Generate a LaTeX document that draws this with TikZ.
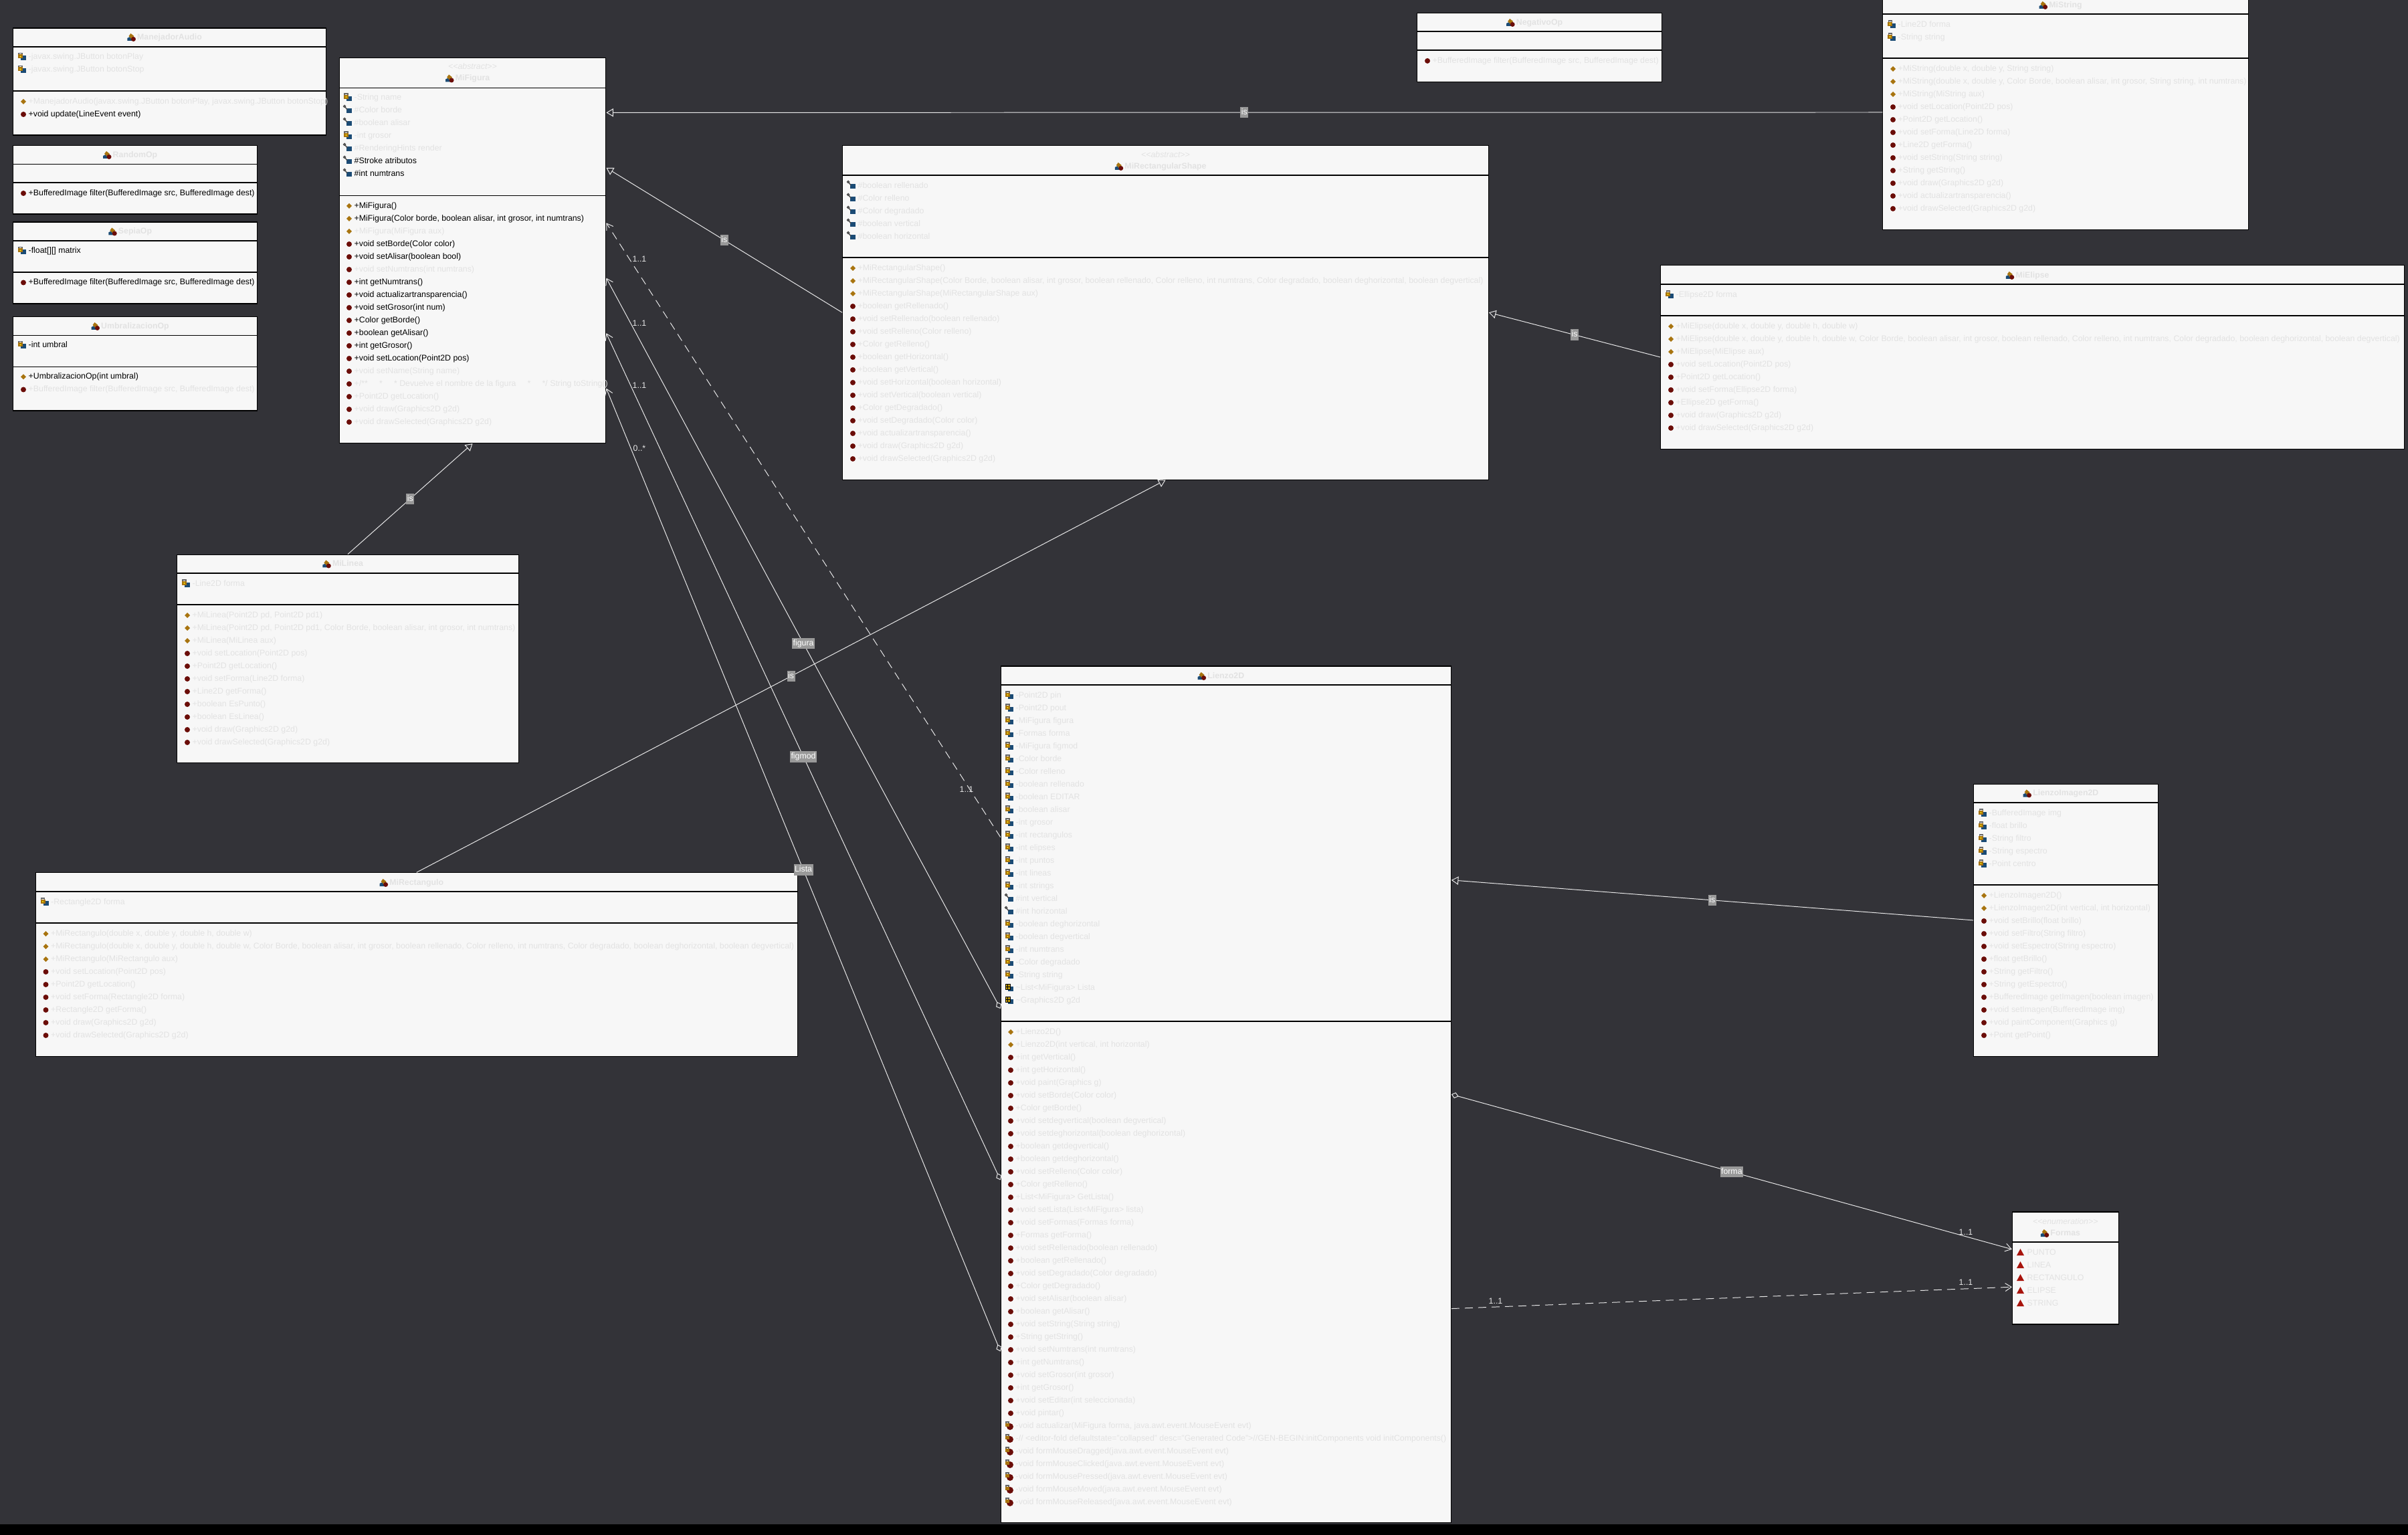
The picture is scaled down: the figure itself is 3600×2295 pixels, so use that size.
\documentclass[tikz,border=0pt]{standalone}
\usepackage{fontspec}
\setmainfont{Liberation Sans}
\usetikzlibrary{arrows.meta}
\usetikzlibrary{calc}
\definecolor{fondo}{HTML}{333338}
\definecolor{caja}{HTML}{F7F7F7}
\definecolor{tenue}{HTML}{E2E2E2}
\definecolor{rolgris}{HTML}{999999}
\definecolor{linea}{HTML}{E8E8E8}
\definecolor{azulico}{HTML}{1B4B75}
\definecolor{ocreico}{HTML}{A8740F}
\definecolor{rojoico}{HTML}{6B0D08}
\definecolor{enumico}{HTML}{A8140C}
\newcommand{\filafont}{\fontsize{3.51pt}{4pt}\selectfont}
\tikzset{
 clase/.style={draw=black,fill=caja,line width=.32pt,inner sep=0},
 sep/.style={draw=black,line width=.32pt},
 rowf/.style={anchor=west,inner sep=0,font=\filafont,text=tenue,text height=2.7pt,text depth=.8pt},
 rown/.style={rowf,text=black},
 titulo/.style={rowf,anchor=center,font=\filafont\bfseries,text=tenue},
 estereo/.style={rowf,anchor=center,font=\filafont\itshape},
 mult/.style={rowf,anchor=center,text=linea},
 rol/.style={fill=rolgris,inner xsep=.4pt,inner ysep=.6pt,font=\filafont,text=white,text height=2.7pt,text depth=.8pt},
 hereda/.style={draw=linea,line width=.28pt,-{Triangle[fill=fondo,length=3pt,width=3.5pt]}},
 agrega/.style={draw=linea,line width=.28pt,{Diamond[fill=fondo,length=3.2pt,width=2.6pt]}-{Straight Barb[length=2.6pt,width=3.4pt]}},
 depende/.style={draw=linea,line width=.28pt,dash pattern=on 3.4pt off 2.3pt,-{Straight Barb[length=2.6pt,width=3.4pt]}},
 privattr/.pic={
  \fill[azulico] (-11,-2) rectangle (-3,5);
  \fill[ocreico] (-15,-4) rectangle (-8,2);
  \draw[black!60,line width=.3pt] (-14,-4) -- (-14,-6) -- (-9,-6) -- (-9,-4);
  \fill[yellow] (-11.5,-1) circle (1.2);
 },
 protattr/.pic={
  \fill[azulico] (-11,-3) rectangle (-3,4);
  \draw[black!70,line width=.4pt] (-14,-6) circle (1.5) (-13,-5) -- (-10,-1);
 },
 paqattr/.pic={
  \fill[azulico] (-11,-2) rectangle (-3,5);
  \fill[ocreico!70!yellow,draw=black,line width=.2pt] (-15,-6) rectangle (-8,2);
  \draw[black,line width=.2pt] (-11.5,-6) -- (-11.5,2) (-15,-2) -- (-8,-2);
 },
 ctormet/.pic={\fill[ocreico] (-7,-4) -- (-3,0) -- (-7,4) -- (-11,0) -- cycle;},
 pubmet/.pic={\fill[rojoico] (-7,0) circle (4);},
 privmet/.pic={
  \fill[rojoico] (-8,1) circle (5);
  \fill[ocreico] (-15,-4) rectangle (-9,1);
  \draw[black!60,line width=.3pt] (-14,-4) -- (-14,-6) -- (-10,-6) -- (-10,-4);
 },
 enumlit/.pic={\fill[enumico] (-15,4) -- (-9.5,-6) -- (-4,4) -- cycle;},
 claseico/.pic={
  \fill[azulico] (-14,5) -- (-14,1) -- (-10,-1) -- (-6,5) -- cycle;
  \fill[ocreico] (-9,-6) -- (-4,-2) -- (-8,2) -- (-12,-2) -- cycle;
  \fill[rojoico] (-5,2.5) circle (3.5);
 },
 ipriv/.style={append after command={pic at (\tikzlastnode.west) {privattr}}},
 iprot/.style={append after command={pic at (\tikzlastnode.west) {protattr}}},
 ipaq/.style={append after command={pic at (\tikzlastnode.west) {paqattr}}},
 ictor/.style={append after command={pic at (\tikzlastnode.west) {ctormet}}},
 imet/.style={append after command={pic at (\tikzlastnode.west) {pubmet}}},
 ipmet/.style={append after command={pic at (\tikzlastnode.west) {privmet}}},
 ilit/.style={append after command={pic at (\tikzlastnode.west) {enumlit}}},
 icls/.style={append after command={pic at (\tikzlastnode.west) {claseico}}},
}
\begin{document}
\begin{tikzpicture}[x=0.01cm,y=-0.01cm]
 \useasboundingbox (0,0) rectangle (3600,2295);
 \clip (0,0) rectangle (3600,2295);
 \fill[fondo] (0,0) rectangle (3600,2295);
 \fill[black] (0,2279) rectangle (3600,2295);

 \node[clase,minimum width=4.67cm,minimum height=1.6cm] (MA) at (253.5,122) {};
 \node[clase,minimum width=3.64cm,minimum height=1.025cm] (RO) at (202,268.75) {};
 \node[clase,minimum width=3.64cm,minimum height=1.22cm] (SO) at (202,393) {};
 \node[clase,minimum width=3.64cm,minimum height=1.405cm] (UO) at (202,543.75) {};
 \node[clase,minimum width=3.984cm,minimum height=5.757cm] (MF) at (706.5,374.5) {};
 \node[clase,minimum width=9.65cm,minimum height=4.994cm] (RS) at (1742.5,467.3) {};
 \node[clase,minimum width=3.65cm,minimum height=1.027cm] (NO) at (2301.5,70.7) {};
 \node[clase,minimum width=5.46cm,minimum height=3.5cm] (MS) at (3088,168) {};
 \node[clase,minimum width=11.11cm,minimum height=2.74cm] (ME) at (3038.5,534) {};
 \node[clase,minimum width=5.104cm,minimum height=3.115cm] (ML) at (520,985) {};
 \node[clase,minimum width=11.385cm,minimum height=2.74cm] (MR) at (622.75,1442) {};
 \node[clase,minimum width=6.725cm,minimum height=12.796cm] (LZ) at (1832.75,1636.2) {};
 \node[clase,minimum width=2.753cm,minimum height=4.063cm] (LI) at (3088.3,1375.9) {};
 \node[clase,minimum width=1.585cm,minimum height=1.68cm] (FO) at (3087.75,1896) {};

 \draw[sep] (MA.west |- 0,70) -- (MA.east |- 0,70);
 \draw[sep] (MA.west |- 0,136) -- (MA.east |- 0,136);
 \draw[sep] (RO.west |- 0,245.5) -- (RO.east |- 0,245.5);
 \draw[sep] (RO.west |- 0,273) -- (RO.east |- 0,273);
 \draw[sep] (SO.west |- 0,360) -- (SO.east |- 0,360);
 \draw[sep] (SO.west |- 0,407) -- (SO.east |- 0,407);
 \draw[sep] (UO.west |- 0,501.5) -- (UO.east |- 0,501.5);
 \draw[sep] (UO.west |- 0,548.5) -- (UO.east |- 0,548.5);
 \draw[sep] (MF.west |- 0,131.3) -- (MF.east |- 0,131.3);
 \draw[sep] (MF.west |- 0,292.2) -- (MF.east |- 0,292.2);
 \draw[sep] (RS.west |- 0,262) -- (RS.east |- 0,262);
 \draw[sep] (RS.west |- 0,385) -- (RS.east |- 0,385);
 \draw[sep] (NO.west |- 0,47) -- (NO.east |- 0,47);
 \draw[sep] (NO.west |- 0,75) -- (NO.east |- 0,75);
 \draw[sep] (MS.west |- 0,21) -- (MS.east |- 0,21);
 \draw[sep] (MS.west |- 0,87) -- (MS.east |- 0,87);
 \draw[sep] (ME.west |- 0,425) -- (ME.east |- 0,425);
 \draw[sep] (ME.west |- 0,472) -- (ME.east |- 0,472);
 \draw[sep] (ML.west |- 0,857) -- (ML.east |- 0,857);
 \draw[sep] (ML.west |- 0,904) -- (ML.east |- 0,904);
 \draw[sep] (MR.west |- 0,1333) -- (MR.east |- 0,1333);
 \draw[sep] (MR.west |- 0,1380) -- (MR.east |- 0,1380);
 \draw[sep] (LZ.west |- 0,1024) -- (LZ.east |- 0,1024);
 \draw[sep] (LZ.west |- 0,1527) -- (LZ.east |- 0,1527);
 \draw[sep] (LI.west |- 0,1200) -- (LI.east |- 0,1200);
 \draw[sep] (LI.west |- 0,1323) -- (LI.east |- 0,1323);
 \draw[sep] (FO.west |- 0,1857) -- (FO.east |- 0,1857);

 \node[titulo,icls] (MAt) at (253.5,56) {ManejadorAudio};
 \node[rowf,ipriv] (MAa1) at (42,85.5) {-javax.swing.JButton botonPlay};
 \node[rowf,ipriv] (MAa2) at (42,104.5) {-javax.swing.JButton botonStop};
 \node[rowf,ictor] (MAm1) at (42,152) {+ManejadorAudio(javax.swing.JButton botonPlay, javax.swing.JButton botonStop)};
 \node[rown,imet] (MAm2) at (42,171) {+void update(LineEvent event)};

 \node[titulo,icls] (ROt) at (202,232) {RandomOp};
 \node[rown,imet] (ROm1) at (42,289) {+BufferedImage filter(BufferedImage src, BufferedImage dest)};

 \node[titulo,icls] (SOt) at (202,346.5) {SepiaOp};
 \node[rown,ipriv] (SOa1) at (42,375.5) {-float[][] matrix};
 \node[rown,imet] (SOm1) at (42,422.5) {+BufferedImage filter(BufferedImage src, BufferedImage dest)};

 \node[titulo,icls] (UOt) at (202,488) {UmbralizacionOp};
 \node[rown,ipriv] (UOa1) at (42,516.5) {-int umbral};
 \node[rown,ictor] (UOm1) at (42,563.5) {+UmbralizacionOp(int umbral)};
 \node[rowf,imet] (UOm2) at (42,582.5) {+BufferedImage filter(BufferedImage src, BufferedImage dest)};

 \node[estereo] (MFe) at (706.5,100.5) {{<}{<}abstract{>}{>}};
 \node[titulo,icls] (MFt) at (706.5,117.5) {MiFigura};
 \node[rowf,ipriv] (MFa1) at (529,146) {-String name};
 \node[rowf,iprot] (MFa2) at (529,165) {\#Color borde};
 \node[rowf,iprot] (MFa3) at (529,184) {\#boolean alisar};
 \node[rowf,ipriv] (MFa4) at (529,203) {-int grosor};
 \node[rowf,iprot] (MFa5) at (529,222) {\#RenderingHints render};
 \node[rown,iprot] (MFa6) at (529,241) {\#Stroke atributos};
 \node[rown,iprot] (MFa7) at (529,260) {\#int numtrans};
 \node[rown,ictor] (MFm1) at (529,308) {+MiFigura()};
 \node[rown,ictor] (MFm2) at (529,327) {+MiFigura(Color borde, boolean alisar, int grosor, int numtrans)};
 \node[rowf,ictor] (MFm3) at (529,346) {+MiFigura(MiFigura aux)};
 \node[rown,imet] (MFm4) at (529,365) {+void setBorde(Color color)};
 \node[rown,imet] (MFm5) at (529,384) {+void setAlisar(boolean bool)};
 \node[rowf,imet] (MFm6) at (529,403) {+void setNumtrans(int numtrans)};
 \node[rown,imet] (MFm7) at (529,422) {+int getNumtrans()};
 \node[rown,imet] (MFm8) at (529,441) {+void actualizartransparencia()};
 \node[rown,imet] (MFm9) at (529,460) {+void setGrosor(int num)};
 \node[rown,imet] (MFm10) at (529,479) {+Color getBorde()};
 \node[rown,imet] (MFm11) at (529,498) {+boolean getAlisar()};
 \node[rown,imet] (MFm12) at (529,517) {+int getGrosor()};
 \node[rown,imet] (MFm13) at (529,536) {+void setLocation(Point2D pos)};
 \node[rowf,imet] (MFm14) at (529,555) {+void setName(String name)};
 \node[rowf,imet] (MFm15) at (529,574) {+/**\ \ \ \ \ *\ \ \ \ \ * Devuelve el nombre de la figura\ \ \ \ \ *\ \ \ \ \ */ String toString()};
 \node[rowf,imet] (MFm16) at (529,593) {+Point2D getLocation()};
 \node[rowf,imet] (MFm17) at (529,612) {+void draw(Graphics2D g2d)};
 \node[rowf,imet] (MFm18) at (529,631) {+void drawSelected(Graphics2D g2d)};

 \node[estereo] (RSe) at (1742.5,232) {{<}{<}abstract{>}{>}};
 \node[titulo,icls] (RSt) at (1742.5,249) {MiRectangularShape};
 \node[rowf,iprot] (RSa1) at (1282,278) {\#boolean rellenado};
 \node[rowf,iprot] (RSa2) at (1282,297) {\#Color relleno};
 \node[rowf,iprot] (RSa3) at (1282,316) {\#Color degradado};
 \node[rowf,iprot] (RSa4) at (1282,335) {\#boolean vertical};
 \node[rowf,iprot] (RSa5) at (1282,354) {\#boolean horizontal};
 \node[rowf,ictor] (RSm1) at (1282,401) {+MiRectangularShape()};
 \node[rowf,ictor] (RSm2) at (1282,420) {+MiRectangularShape(Color Borde, boolean alisar, int grosor, boolean rellenado, Color relleno, int numtrans, Color degradado, boolean deghorizontal, boolean degvertical)};
 \node[rowf,ictor] (RSm3) at (1282,439) {+MiRectangularShape(MiRectangularShape aux)};
 \node[rowf,imet] (RSm4) at (1282,458) {+boolean getRellenado()};
 \node[rowf,imet] (RSm5) at (1282,477) {+void setRellenado(boolean rellenado)};
 \node[rowf,imet] (RSm6) at (1282,496) {+void setRelleno(Color relleno)};
 \node[rowf,imet] (RSm7) at (1282,515) {+Color getRelleno()};
 \node[rowf,imet] (RSm8) at (1282,534) {+boolean getHorizontal()};
 \node[rowf,imet] (RSm9) at (1282,553) {+boolean getVertical()};
 \node[rowf,imet] (RSm10) at (1282,572) {+void setHorizontal(boolean horizontal)};
 \node[rowf,imet] (RSm11) at (1282,591) {+void setVertical(boolean vertical)};
 \node[rowf,imet] (RSm12) at (1282,610) {+Color getDegradado()};
 \node[rowf,imet] (RSm13) at (1282,629) {+void setDegradado(Color color)};
 \node[rowf,imet] (RSm14) at (1282,648) {+void actualizartransparencia()};
 \node[rowf,imet] (RSm15) at (1282,667) {+void draw(Graphics2D g2d)};
 \node[rowf,imet] (RSm16) at (1282,686) {+void drawSelected(Graphics2D g2d)};

 \node[titulo,icls] (NOt) at (2301.5,34) {NegativoOp};
 \node[rowf,imet] (NOm1) at (2141,91) {+BufferedImage filter(BufferedImage src, BufferedImage dest)};

 \node[titulo,icls] (MSt) at (3088,8) {MiString};
 \node[rowf,ipriv] (MSa1) at (2837,37) {-Line2D forma};
 \node[rowf,ipriv] (MSa2) at (2837,56) {-String string};
 \node[rowf,ictor] (MSm1) at (2837,103) {+MiString(double x, double y, String string)};
 \node[rowf,ictor] (MSm2) at (2837,122) {+MiString(double x, double y, Color Borde, boolean alisar, int grosor, String string, int numtrans)};
 \node[rowf,ictor] (MSm3) at (2837,141) {+MiString(MiString aux)};
 \node[rowf,imet] (MSm4) at (2837,160) {+void setLocation(Point2D pos)};
 \node[rowf,imet] (MSm5) at (2837,179) {+Point2D getLocation()};
 \node[rowf,imet] (MSm6) at (2837,198) {+void setForma(Line2D forma)};
 \node[rowf,imet] (MSm7) at (2837,217) {+Line2D getForma()};
 \node[rowf,imet] (MSm8) at (2837,236) {+void setString(String string)};
 \node[rowf,imet] (MSm9) at (2837,255) {+String getString()};
 \node[rowf,imet] (MSm10) at (2837,274) {+void draw(Graphics2D g2d)};
 \node[rowf,imet] (MSm11) at (2837,293) {+void actualizartransparencia()};
 \node[rowf,imet] (MSm12) at (2837,312) {+void drawSelected(Graphics2D g2d)};

 \node[titulo,icls] (MEt) at (3038.5,412) {MiElipse};
 \node[rowf,ipriv] (MEa1) at (2505,441) {-Ellipse2D forma};
 \node[rowf,ictor] (MEm1) at (2505,488) {+MiElipse(double x, double y, double h, double w)};
 \node[rowf,ictor] (MEm2) at (2505,507) {+MiElipse(double x, double y, double h, double w, Color Borde, boolean alisar, int grosor, boolean rellenado, Color relleno, int numtrans, Color degradado, boolean deghorizontal, boolean degvertical)};
 \node[rowf,ictor] (MEm3) at (2505,526) {+MiElipse(MiElipse aux)};
 \node[rowf,imet] (MEm4) at (2505,545) {+void setLocation(Point2D pos)};
 \node[rowf,imet] (MEm5) at (2505,564) {+Point2D getLocation()};
 \node[rowf,imet] (MEm6) at (2505,583) {+void setForma(Ellipse2D forma)};
 \node[rowf,imet] (MEm7) at (2505,602) {+Ellipse2D getForma()};
 \node[rowf,imet] (MEm8) at (2505,621) {+void draw(Graphics2D g2d)};
 \node[rowf,imet] (MEm9) at (2505,640) {+void drawSelected(Graphics2D g2d)};

 \node[titulo,icls] (MLt) at (520,843.5) {MiLinea};
 \node[rowf,ipriv] (MLa1) at (287,873) {-Line2D forma};
 \node[rowf,ictor] (MLm1) at (287,920) {+MiLinea(Point2D pd, Point2D pd1)};
 \node[rowf,ictor] (MLm2) at (287,939) {+MiLinea(Point2D pd, Point2D pd1, Color Borde, boolean alisar, int grosor, int numtrans)};
 \node[rowf,ictor] (MLm3) at (287,958) {+MiLinea(MiLinea aux)};
 \node[rowf,imet] (MLm4) at (287,977) {+void setLocation(Point2D pos)};
 \node[rowf,imet] (MLm5) at (287,996) {+Point2D getLocation()};
 \node[rowf,imet] (MLm6) at (287,1015) {+void setForma(Line2D forma)};
 \node[rowf,imet] (MLm7) at (287,1034) {+Line2D getForma()};
 \node[rowf,imet] (MLm8) at (287,1053) {+boolean EsPunto()};
 \node[rowf,imet] (MLm9) at (287,1072) {+boolean EsLinea()};
 \node[rowf,imet] (MLm10) at (287,1091) {+void draw(Graphics2D g2d)};
 \node[rowf,imet] (MLm11) at (287,1110) {+void drawSelected(Graphics2D g2d)};

 \node[titulo,icls] (MRt) at (622.75,1320) {MiRectangulo};
 \node[rowf,ipriv] (MRa1) at (75.5,1349) {-Rectangle2D forma};
 \node[rowf,ictor] (MRm1) at (75.5,1396) {+MiRectangulo(double x, double y, double h, double w)};
 \node[rowf,ictor] (MRm2) at (75.5,1415) {+MiRectangulo(double x, double y, double h, double w, Color Borde, boolean alisar, int grosor, boolean rellenado, Color relleno, int numtrans, Color degradado, boolean deghorizontal, boolean degvertical)};
 \node[rowf,ictor] (MRm3) at (75.5,1434) {+MiRectangulo(MiRectangulo aux)};
 \node[rowf,imet] (MRm4) at (75.5,1453) {+void setLocation(Point2D pos)};
 \node[rowf,imet] (MRm5) at (75.5,1472) {+Point2D getLocation()};
 \node[rowf,imet] (MRm6) at (75.5,1491) {+void setForma(Rectangle2D forma)};
 \node[rowf,imet] (MRm7) at (75.5,1510) {+Rectangle2D getForma()};
 \node[rowf,imet] (MRm8) at (75.5,1529) {+void draw(Graphics2D g2d)};
 \node[rowf,imet] (MRm9) at (75.5,1548) {+void drawSelected(Graphics2D g2d)};

 \node[titulo,icls] (LZt) at (1832.75,1011) {Lienzo2D};
 \node[rowf,ipriv] (LZa1) at (1518,1040) {-Point2D pin};
 \node[rowf,ipriv] (LZa2) at (1518,1059) {-Point2D pout};
 \node[rowf,ipriv] (LZa3) at (1518,1078) {-MiFigura figura};
 \node[rowf,ipriv] (LZa4) at (1518,1097) {-Formas forma};
 \node[rowf,ipriv] (LZa5) at (1518,1116) {-MiFigura figmod};
 \node[rowf,ipriv] (LZa6) at (1518,1135) {-Color borde};
 \node[rowf,ipriv] (LZa7) at (1518,1154) {-Color relleno};
 \node[rowf,ipriv] (LZa8) at (1518,1173) {-boolean rellenado};
 \node[rowf,ipriv] (LZa9) at (1518,1192) {-boolean EDITAR};
 \node[rowf,ipriv] (LZa10) at (1518,1211) {-boolean alisar};
 \node[rowf,ipriv] (LZa11) at (1518,1230) {-int grosor};
 \node[rowf,ipriv] (LZa12) at (1518,1249) {-int rectangulos};
 \node[rowf,ipriv] (LZa13) at (1518,1268) {-int elipses};
 \node[rowf,ipriv] (LZa14) at (1518,1287) {-int puntos};
 \node[rowf,ipriv] (LZa15) at (1518,1306) {-int lineas};
 \node[rowf,ipriv] (LZa16) at (1518,1325) {-int strings};
 \node[rowf,iprot] (LZa17) at (1518,1344) {\#int vertical};
 \node[rowf,iprot] (LZa18) at (1518,1363) {\#int horizontal};
 \node[rowf,ipriv] (LZa19) at (1518,1382) {-boolean deghorizontal};
 \node[rowf,ipriv] (LZa20) at (1518,1401) {-boolean degvertical};
 \node[rowf,ipriv] (LZa21) at (1518,1420) {-int numtrans};
 \node[rowf,ipriv] (LZa22) at (1518,1439) {-Color degradado};
 \node[rowf,ipriv] (LZa23) at (1518,1458) {-String string};
 \node[rowf,ipaq] (LZa24) at (1518,1477) {\textasciitilde List<MiFigura> Lista};
 \node[rowf,ipaq] (LZa25) at (1518,1496) {\textasciitilde Graphics2D g2d};
 \node[rowf,ictor] (LZm1) at (1518,1543) {+Lienzo2D()};
 \node[rowf,ictor] (LZm2) at (1518,1562) {+Lienzo2D(int vertical, int horizontal)};
 \node[rowf,imet] (LZm3) at (1518,1581) {+int getVertical()};
 \node[rowf,imet] (LZm4) at (1518,1600) {+int getHorizontal()};
 \node[rowf,imet] (LZm5) at (1518,1619) {+void paint(Graphics g)};
 \node[rowf,imet] (LZm6) at (1518,1638) {+void setBorde(Color color)};
 \node[rowf,imet] (LZm7) at (1518,1657) {+Color getBorde()};
 \node[rowf,imet] (LZm8) at (1518,1676) {+void setdegvertical(boolean degvertical)};
 \node[rowf,imet] (LZm9) at (1518,1695) {+void setdeghorizontal(boolean deghorizontal)};
 \node[rowf,imet] (LZm10) at (1518,1714) {+boolean getdegvertical()};
 \node[rowf,imet] (LZm11) at (1518,1733) {+boolean getdeghorizontal()};
 \node[rowf,imet] (LZm12) at (1518,1752) {+void setRelleno(Color color)};
 \node[rowf,imet] (LZm13) at (1518,1771) {+Color getRelleno()};
 \node[rowf,imet] (LZm14) at (1518,1790) {+List<MiFigura> GetLista()};
 \node[rowf,imet] (LZm15) at (1518,1809) {+void setLista(List<MiFigura> lista)};
 \node[rowf,imet] (LZm16) at (1518,1828) {+void setFormas(Formas forma)};
 \node[rowf,imet] (LZm17) at (1518,1847) {+Formas getForma()};
 \node[rowf,imet] (LZm18) at (1518,1866) {+void setRellenado(boolean rellenado)};
 \node[rowf,imet] (LZm19) at (1518,1885) {+boolean getRellenado()};
 \node[rowf,imet] (LZm20) at (1518,1904) {+void setDegradado(Color degradado)};
 \node[rowf,imet] (LZm21) at (1518,1923) {+Color getDegradado()};
 \node[rowf,imet] (LZm22) at (1518,1942) {+void setAlisar(boolean alisar)};
 \node[rowf,imet] (LZm23) at (1518,1961) {+boolean getAlisar()};
 \node[rowf,imet] (LZm24) at (1518,1980) {+void setString(String string)};
 \node[rowf,imet] (LZm25) at (1518,1999) {+String getString()};
 \node[rowf,imet] (LZm26) at (1518,2018) {+void setNumtrans(int numtrans)};
 \node[rowf,imet] (LZm27) at (1518,2037) {+int getNumtrans()};
 \node[rowf,imet] (LZm28) at (1518,2056) {+void setGrosor(int grosor)};
 \node[rowf,imet] (LZm29) at (1518,2075) {+int getGrosor()};
 \node[rowf,imet] (LZm30) at (1518,2094) {+void setEditar(int seleccionada)};
 \node[rowf,imet] (LZm31) at (1518,2113) {+void pintar()};
 \node[rowf,ipmet] (LZm32) at (1518,2132) {-void actualizar(MiFigura forma, java.awt.event.MouseEvent evt)};
 \node[rowf,ipmet] (LZm33) at (1518,2151) {-// <editor-fold defaultstate="collapsed" desc="Generated Code">//GEN-BEGIN:initComponents void initComponents()};
 \node[rowf,ipmet] (LZm34) at (1518,2170) {-void formMouseDragged(java.awt.event.MouseEvent evt)};
 \node[rowf,ipmet] (LZm35) at (1518,2189) {-void formMouseClicked(java.awt.event.MouseEvent evt)};
 \node[rowf,ipmet] (LZm36) at (1518,2208) {-void formMousePressed(java.awt.event.MouseEvent evt)};
 \node[rowf,ipmet] (LZm37) at (1518,2227) {-void formMouseMoved(java.awt.event.MouseEvent evt)};
 \node[rowf,ipmet] (LZm38) at (1518,2246) {-void formMouseReleased(java.awt.event.MouseEvent evt)};

 \node[titulo,icls] (LIt) at (3088.3,1186.5) {LienzoImagen2D};
 \node[rowf,ipriv] (LIa1) at (2973,1216) {-BufferedImage img};
 \node[rowf,ipriv] (LIa2) at (2973,1235) {-float brillo};
 \node[rowf,ipriv] (LIa3) at (2973,1254) {-String filtro};
 \node[rowf,ipriv] (LIa4) at (2973,1273) {-String espectro};
 \node[rowf,ipriv] (LIa5) at (2973,1292) {-Point centro};
 \node[rowf,ictor] (LIm1) at (2973,1339) {+LienzoImagen2D()};
 \node[rowf,ictor] (LIm2) at (2973,1358) {+LienzoImagen2D(int vertical, int horizontal)};
 \node[rowf,imet] (LIm3) at (2973,1377) {+void setBrillo(float brillo)};
 \node[rowf,imet] (LIm4) at (2973,1396) {+void setFiltro(String filtro)};
 \node[rowf,imet] (LIm5) at (2973,1415) {+void setEspectro(String espectro)};
 \node[rowf,imet] (LIm6) at (2973,1434) {+float getBrillo()};
 \node[rowf,imet] (LIm7) at (2973,1453) {+String getFiltro()};
 \node[rowf,imet] (LIm8) at (2973,1472) {+String getEspectro()};
 \node[rowf,imet] (LIm9) at (2973,1491) {+BufferedImage getImagen(boolean imagen)};
 \node[rowf,imet] (LIm10) at (2973,1510) {+void setImagen(BufferedImage img)};
 \node[rowf,imet] (LIm11) at (2973,1529) {+void paintComponent(Graphics g)};
 \node[rowf,imet] (LIm12) at (2973,1548) {+Point getPoint()};

 \node[estereo] (FOe) at (3087.75,1827) {{<}{<}enumeration{>}{>}};
 \node[titulo,icls] (FOt) at (3087.75,1844) {Formas};
 \node[rowf,ilit] (FOa1) at (3030,1873) {PUNTO};
 \node[rowf,ilit] (FOa2) at (3030,1892) {LINEA};
 \node[rowf,ilit] (FOa3) at (3030,1911) {RECTANGULO};
 \node[rowf,ilit] (FOa4) at (3030,1930) {ELIPSE};
 \node[rowf,ilit] (FOa5) at (3030,1949) {STRING};

 \coordinate (MFe1) at ($(MF.north east)!1/7!(MF.south east)$);
 \coordinate (MFe2) at ($(MF.north east)!2/7!(MF.south east)$);
 \coordinate (MFe3) at ($(MF.north east)!3/7!(MF.south east)$);
 \coordinate (MFe4) at ($(MF.north east)!4/7!(MF.south east)$);
 \coordinate (MFe5) at ($(MF.north east)!5/7!(MF.south east)$);
 \coordinate (MFe6) at ($(MF.north east)!6/7!(MF.south east)$);
 \coordinate (LZw1) at ($(LZ.north west)!1/5!(LZ.south west)$);
 \coordinate (LZw2) at ($(LZ.north west)!2/5!(LZ.south west)$);
 \coordinate (LZw3) at ($(LZ.north west)!3/5!(LZ.south west)$);
 \coordinate (LZw4) at ($(LZ.north west)!4/5!(LZ.south west)$);
 \coordinate (LZe1) at ($(LZ.north east)!1/4!(LZ.south east)$);
 \coordinate (LZe2) at ($(LZ.north east)!2/4!(LZ.south east)$);
 \coordinate (LZe3) at ($(LZ.north east)!3/4!(LZ.south east)$);
 \coordinate (FOw1) at ($(FO.north west)!1/3!(FO.south west)$);
 \coordinate (FOw2) at ($(FO.north west)!2/3!(FO.south west)$);

 \draw[hereda] (MS.west) -- (MFe1) node[rol,midway] (R1) {is};
 \draw[hereda] (RS.west) -- (MFe2) node[rol,midway] (R2) {is};
 \draw[hereda] (ML.north) -- (MF.south) node[rol,midway] (R3) {is};
 \draw[hereda] (ME.west) -- (RS.east) node[rol,midway] (R4) {is};
 \draw[hereda] (MR.north) -- (RS.south) node[rol,midway] (R5) {is};
 \draw[hereda] (LI.west) -- (LZe1) node[rol,midway] (R6) {is};
 \draw[depende] (LZw1) -- (MFe3);
 \draw[agrega] (LZw2) -- (MFe4) node[rol,midway] (R7) {figura};
 \draw[agrega] (LZw3) -- (MFe5) node[rol,midway] (R8) {figmod};
 \draw[agrega] (LZw4) -- (MFe6) node[rol,midway] (R9) {Lista};
 \draw[agrega] (LZe2) -- (FOw1) node[rol,midway] (R10) {forma};
 \draw[depende] (LZe3) -- (FOw2);

 \node[mult] (N1) at (956,388) {1..1};
 \node[mult] (N2) at (956,484) {1..1};
 \node[mult] (N3) at (956,577) {1..1};
 \node[mult] (N4) at (956,671) {0..*};
 \node[mult] (N5) at (1445,1181) {1..1};
 \node[mult] (N6) at (2939,1843) {1..1};
 \node[mult] (N7) at (2939,1918) {1..1};
 \node[mult] (N8) at (2236,1946) {1..1};
\end{tikzpicture}
\end{document}
